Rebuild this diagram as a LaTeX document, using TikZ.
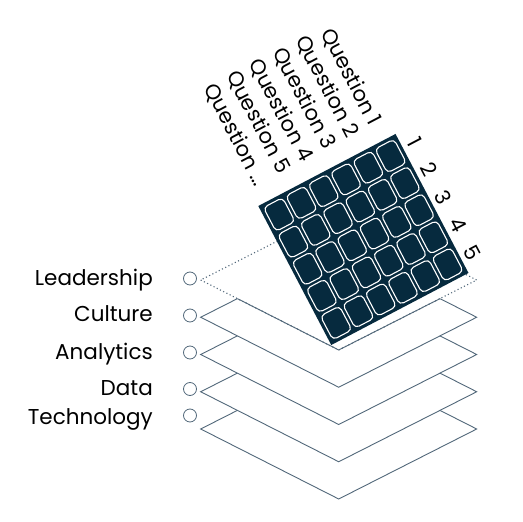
\documentclass[tikz,border=0pt]{standalone}
\usepackage{fontspec}
\setmainfont{Poppins}
\usetikzlibrary{calc}
\definecolor{navy}{RGB}{6,42,62}
\definecolor{slate}{RGB}{82,104,122}
\begin{document}
\begin{tikzpicture}[x=1pt,y=-1pt,
  layer/.style={draw=slate, line width=0.9pt, fill=white, line join=miter},
  dotline/.style={draw=slate, line width=1.1pt, dash pattern=on 1.1pt off 2.5pt},
  solidline/.style={draw=slate, line width=0.9pt},
  ring/.style={circle, draw=slate, line width=0.8pt, minimum size=13pt, inner sep=0pt},
  lbl/.style={anchor=base east, font=\fontsize{21.5}{24}\selectfont, text=black, inner sep=0pt},
  qlbl/.style={anchor=east, rotate=-62.3, font=\fontsize{21}{24}\selectfont, text=black, inner sep=0pt},
  nlbl/.style={anchor=center, rotate=-62.3, font=\fontsize{21}{24}\selectfont, text=black, inner sep=0pt},
  cell/.style={draw=white, line width=1.1pt, rounded corners=4.5pt}]
\useasboundingbox (0,0) rectangle (523,522);

% stacked layers, bottom first
\foreach \k/\nm in {4/tech,3/data,2/ana,1/cul} {
  \pgfmathsetmacro\cy{280+37.25*\k}
  \path (200.7,\cy) coordinate (\nm L)
        (338.7,\cy+70) coordinate (\nm F)
        (476.7,\cy) coordinate (\nm R)
        (338.7,\cy-70) coordinate (\nm B);
  \draw[layer] (\nm L) -- (\nm F) -- (\nm R) -- (\nm B) -- cycle;
}
% leadership layer (lifted)
\path (200.7,280) coordinate (leadL)
      (338.7,350) coordinate (leadF)
      (476.7,280) coordinate (leadR)
      (338.7,210) coordinate (leadB);
\fill[white] (leadL) -- (leadF) -- (leadR) -- (leadB) -- cycle;
\draw[dotline] (leadL) -- (leadF) -- (leadR) -- (leadB) -- cycle;
\path ($(leadL)!0.266!(leadF)$) coordinate (leadFl)
      ($(leadR)!0.266!(leadF)$) coordinate (leadFr);
\draw[solidline, line join=miter] (leadFl) -- (leadF) -- (leadFr);

% left labels and rings
\node[lbl] (tLead) at (153,285) {Leadership};
\node[lbl] (tCul)  at (153,321.7) {Culture};
\node[lbl] (tAna)  at (153,359) {Analytics};
\node[lbl] (tData) at (153,395.7) {Data};
\node[lbl] (tTech) at (153,424.3) {Technology};
\node[ring] (rLead) at (190,278.5) {};
\node[ring] (rCul)  at (190,315.5) {};
\node[ring] (rAna)  at (190,352.5) {};
\node[ring] (rData) at (190,389) {};
\node[ring] (rTech) at (190,415.5) {};

% question matrix
\begin{scope}[shift={(258.3,206)}, rotate=27.7]
  \fill[navy] (0,0) rectangle (155,157);
  \foreach \i in {0,...,5} {
    \foreach \j in {0,...,4} {
      \draw[cell] ({2+\i*151/6+1.8},{2+\j*153/5+1.8}) rectangle ({2+(\i+1)*151/6-1.8},{2+(\j+1)*153/5-1.8});
    }
  }
  \node[qlbl] (q1) at ({5.5*155/6},-18) {Question 1};
  \node[qlbl] (q2) at ({4.5*155/6},-18) {Question 2};
  \node[qlbl] (q3) at ({3.5*155/6},-18) {Question 3};
  \node[qlbl] (q4) at ({2.5*155/6},-18) {Question 4};
  \node[qlbl] (q5) at ({1.5*155/6},-18) {Question 5};
  \node[qlbl] (q6) at ({0.5*155/6},-18) {Question \dots};
  \node[nlbl] (n1) at (168,{0.5*157/5}) {1};
  \node[nlbl] (n2) at (168,{1.5*157/5}) {2};
  \node[nlbl] (n3) at (168,{2.5*157/5}) {3};
  \node[nlbl] (n4) at (168,{3.5*157/5}) {4};
  \node[nlbl] (n5) at (168,{4.5*157/5}) {5};
\end{scope}
\end{tikzpicture}
\end{document}
